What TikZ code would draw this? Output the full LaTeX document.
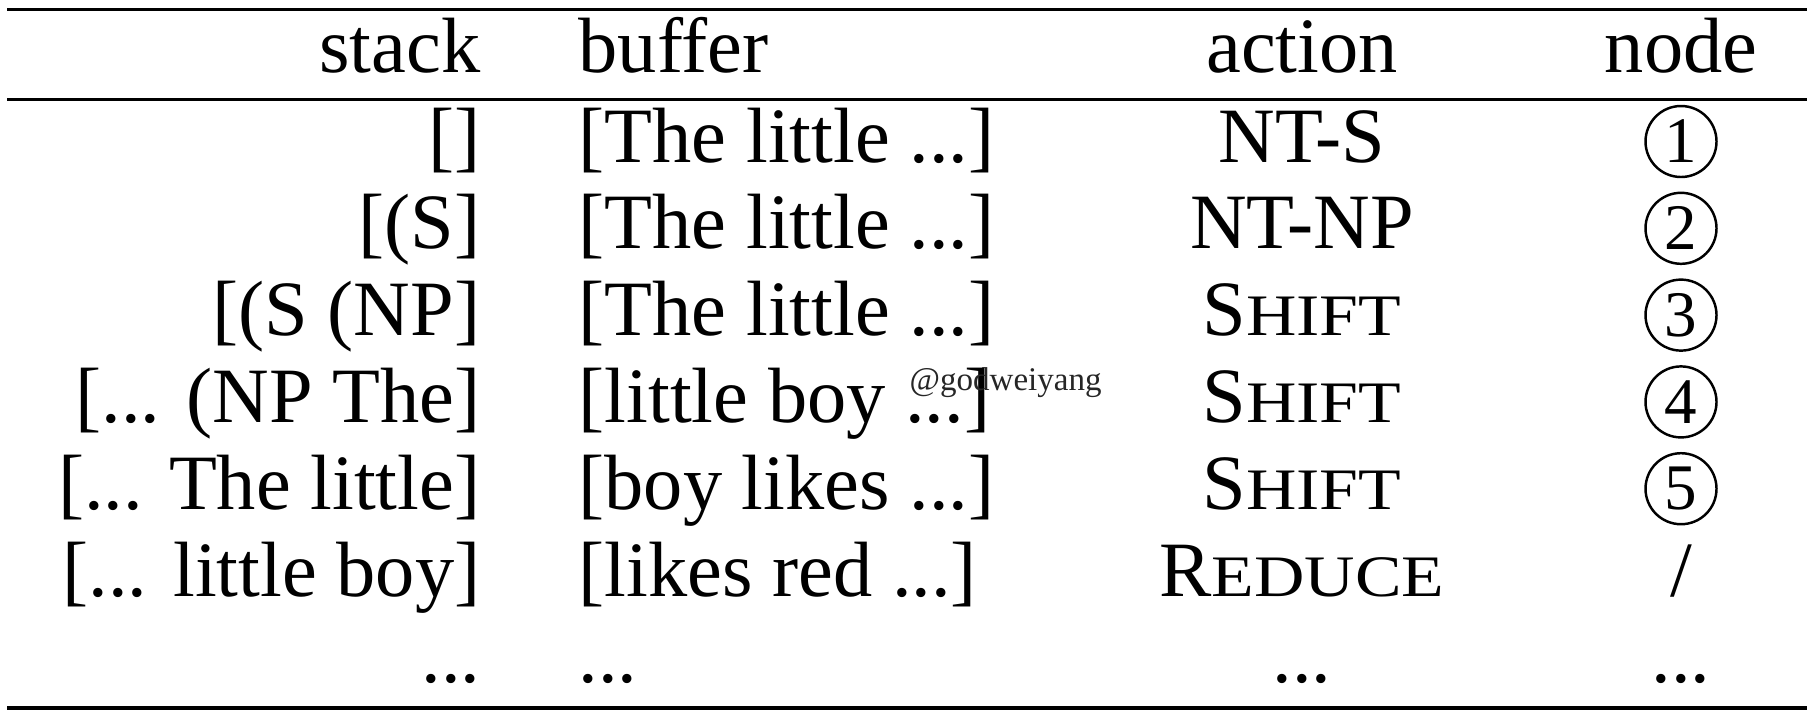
\documentclass[tikz,border=0pt]{standalone}
\usepackage{fontspec}
\setmainfont{Liberation Serif}
\usepackage{graphicx}

\begin{document}
\begin{tikzpicture}
  \newcommand\stackx{4.81}
  \newcommand\bufferx{5.78}
  \newcommand\actionx{13.02}
  \newcommand\nodex{16.81}
  \newcommand\firstrow{1.62}
  \newcommand\rowspacing{0.868}
  \newcommand\circlelift{0.205}
  \newcommand\smallcap[2]{#1\scalebox{0.89}[0.75]{#2}}

  \tikzset{cell/.style={inner sep=0, font=\fontsize{22.3}{26}\selectfont}}
  \tikzset{stackcell/.style={cell, anchor=base east}}
  \tikzset{buffercell/.style={cell, anchor=base west}}
  \tikzset{actioncell/.style={cell, anchor=base}}
  \tikzset{nodecircle/.style={draw, circle, line width=0.7pt, inner sep=0, minimum size=0.71cm, font=\fontsize{18.5}{20}\selectfont}}
  \tikzset{heavyrule/.style={line width=0.035cm}}
  \tikzset{lightrule/.style={line width=0.03cm}}

  \useasboundingbox (0, 0) rectangle (18.13, -7.18);

  % rules
  \coordinate (toprule-w) at (0.07, -0.093);
  \coordinate (toprule-e) at (18.07, -0.093);
  \coordinate (midrule-w) at (0.07, -0.995);
  \coordinate (midrule-e) at (18.07, -0.995);
  \coordinate (botrule-w) at (0.07, -7.08);
  \coordinate (botrule-e) at (18.07, -7.08);
  \draw[heavyrule] (toprule-w) -- (toprule-e);
  \draw[lightrule] (midrule-w) -- (midrule-e);
  \draw[heavyrule] (botrule-w) -- (botrule-e);

  % header
  \node[stackcell] at (\stackx, -0.72) (hd-stack) {stack};
  \node[buffercell] at (\bufferx, -0.72) (hd-buffer) {buffer};
  \node[actioncell] at (\actionx, -0.72) (hd-action) {action};
  \node[actioncell] at (\nodex, -0.72) (hd-node) {node};

  % transitions
  \foreach \stk/\buf/\act [count=\r from 1] in {{[]}/{[The little ...]}/{NT-S}, {[(S]}/{[The little ...]}/{NT-NP}, {[(S (NP]}/{[The little ...]}/{\smallcap{S}{HIFT}}, {[... (NP The]}/{[little boy ...]}/{\smallcap{S}{HIFT}}, {[... The little]}/{[boy likes ...]}/{\smallcap{S}{HIFT}}, {[... little boy]}/{[likes red ...]}/{\smallcap{R}{EDUCE}}, {...}/{...}/{...}}{
    \node[stackcell] at (\stackx, {-\firstrow-(\r-1)*\rowspacing}) (stk-\r) {\stk};
    \node[buffercell] at (\bufferx, {-\firstrow-(\r-1)*\rowspacing}) (buf-\r) {\buf};
    \node[actioncell] at (\actionx, {-\firstrow-(\r-1)*\rowspacing}) (act-\r) {\act};
  }

  \foreach \n in {1, ..., 5}{
    \node[nodecircle] at (\nodex, {-\firstrow-(\n-1)*\rowspacing+\circlelift}) (nd-\n) {\n};
  }
  \node[actioncell] at (\nodex, {-\firstrow-5*\rowspacing}) (nd-6) {/};
  \node[actioncell] at (\nodex, {-\firstrow-6*\rowspacing}) (nd-7) {...};

  % watermark
  \node[inner sep=0, anchor=base west, text=black!85, font=\fontsize{9.4}{11}\selectfont] at (9.09, -3.90) (mark) {@godweiyang};
\end{tikzpicture}
\end{document}
